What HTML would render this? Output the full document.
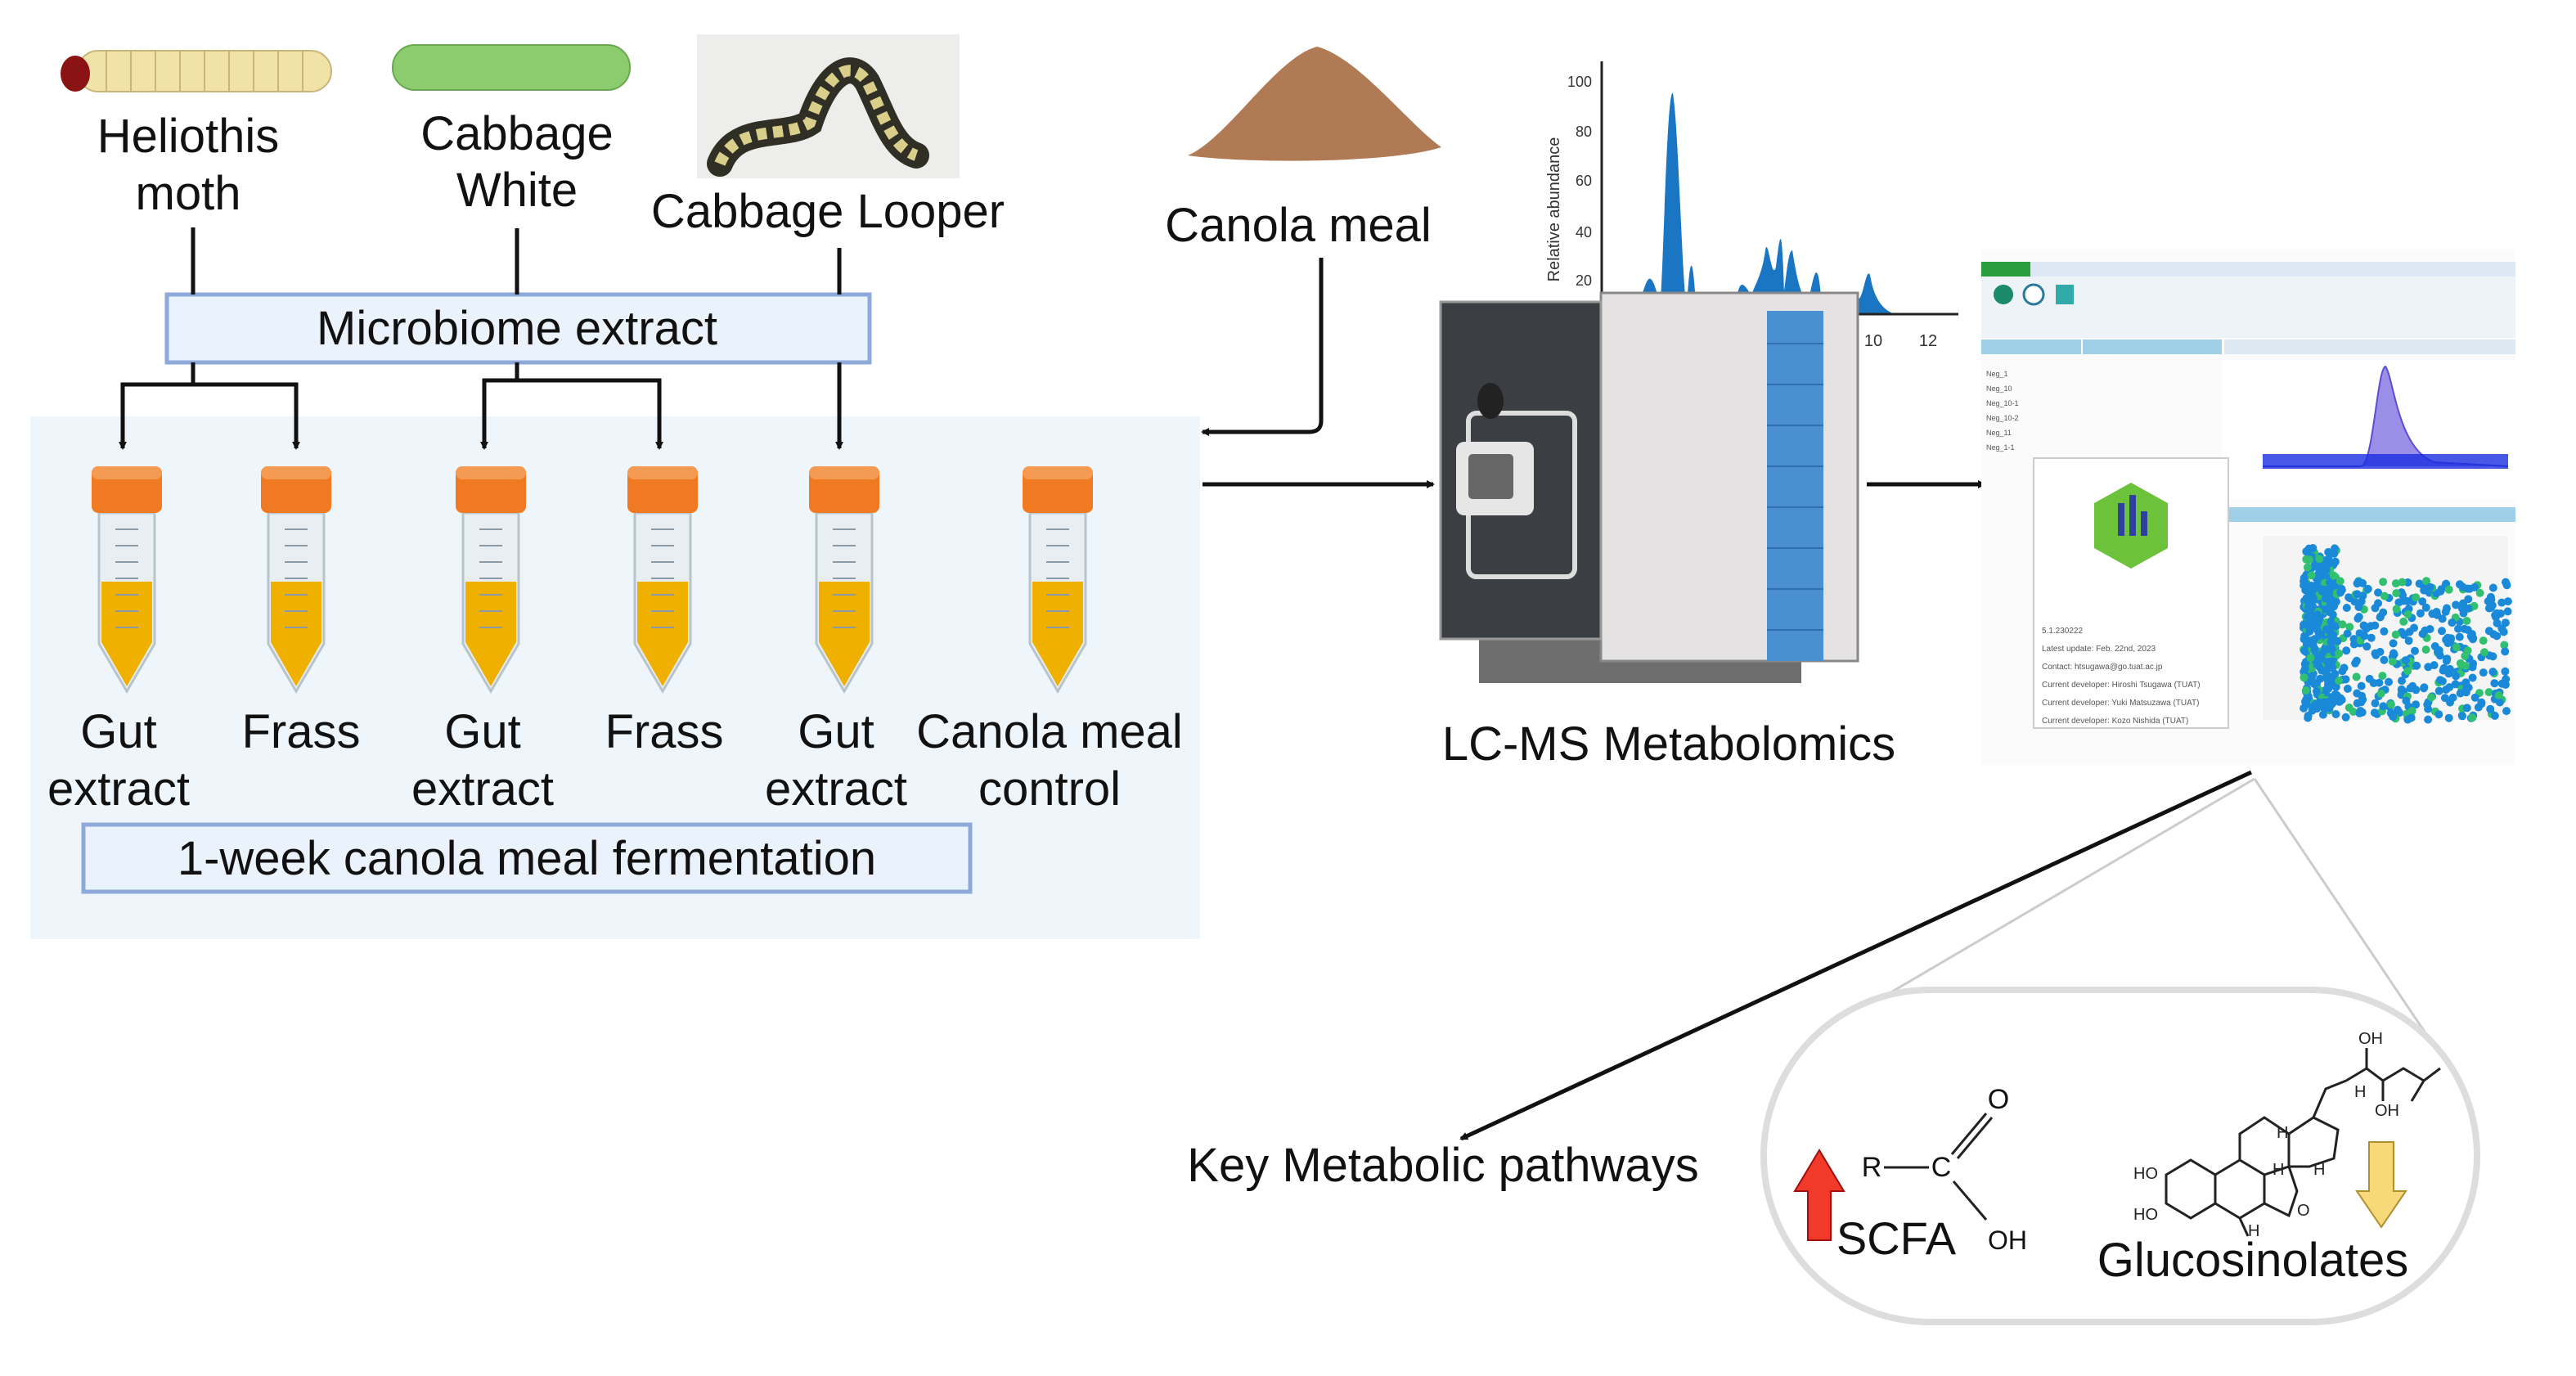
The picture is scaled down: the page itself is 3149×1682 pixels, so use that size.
<!DOCTYPE html>
<html><head><meta charset="utf-8"><style>
body{margin:0;width:3149px;height:1682px;background:#fff;position:relative;overflow:hidden;font-family:"Liberation Sans",sans-serif;color:#111}
.t{position:absolute;transform:translate(-50%,-50%);white-space:nowrap;text-align:center;font-size:58px;line-height:70px}
</style></head><body>
<svg width="3149" height="1682" style="position:absolute;left:0;top:0">
<defs>
<marker id="ah" markerWidth="10" markerHeight="10" refX="8" refY="5" orient="auto" markerUnits="userSpaceOnUse" viewBox="0 0 10 10"><path d="M0,0 L10,5 L0,10z" fill="#111"/></marker>
<g id="tube">
<path d="M-34,0 L34,0 L34,160 L0,218 L-34,160Z" fill="#e8eef2" stroke="#b8c4cc" stroke-width="3"/>
<path d="M-31,84 L31,84 L31,158 L0,212 L-31,158Z" fill="#f0b000"/>
<g stroke="#8a9aa6" stroke-width="2"><line x1="-14" y1="20" x2="14" y2="20"/><line x1="-14" y1="40" x2="14" y2="40"/><line x1="-14" y1="60" x2="14" y2="60"/><line x1="-14" y1="80" x2="14" y2="80"/><line x1="-14" y1="100" x2="14" y2="100"/><line x1="-14" y1="120" x2="14" y2="120"/><line x1="-14" y1="140" x2="14" y2="140"/></g>
<rect x="-43" y="-57" width="86" height="57" rx="8" fill="#f07a22"/>
<rect x="-43" y="-57" width="86" height="16" rx="8" fill="#f59a52"/>
</g>
</defs>
<rect x="37" y="509" width="1430" height="639" fill="#eef6fc"/>
<rect x="204" y="360" width="859" height="83" fill="#eaf2fb" stroke="#8eaadb" stroke-width="5"/>
<rect x="102" y="1008" width="1084" height="82" fill="#eaf2fb" stroke="#8eaadb" stroke-width="5"/>
<g stroke="#111" stroke-width="5" fill="none">
<line x1="236" y1="278" x2="236" y2="360"/><line x1="632" y1="279" x2="632" y2="360"/><line x1="1026" y1="303" x2="1026" y2="360"/>
<path d="M236,443 V470 H150 V548" marker-end="url(#ah)"/><path d="M236,470 H362 V548" marker-end="url(#ah)"/>
<path d="M632,443 V465 H592 V548" marker-end="url(#ah)"/><path d="M632,465 H806 V548" marker-end="url(#ah)"/>
<path d="M1026,443 V548" marker-end="url(#ah)"/>
<path d="M1615,315 V515 Q1615,528 1600,528 H1470" marker-end="url(#ah)"/>
<path d="M1470,592 H1752" marker-end="url(#ah)"/>
<path d="M2282,592 H2426" marker-end="url(#ah)"/>
<path d="M2752,944 L1786,1392" marker-end="url(#ah)"/>
</g>
<g stroke="#ccc" stroke-width="3"><line x1="2756" y1="952" x2="2235" y2="1258"/><line x1="2756" y1="952" x2="2990" y2="1300"/></g>
<use href="#tube" x="155" y="627"/><use href="#tube" x="362" y="627"/><use href="#tube" x="600" y="627"/><use href="#tube" x="810" y="627"/><use href="#tube" x="1032" y="627"/><use href="#tube" x="1293" y="627"/>
<g fill="#f1e2a8" stroke="#c9b57a" stroke-width="2"><rect x="95" y="62" width="310" height="50" rx="25"/></g>
<g stroke="#c9b57a" stroke-width="2"><line x1="130" y1="62" x2="130" y2="112"/><line x1="160" y1="62" x2="160" y2="112"/><line x1="190" y1="62" x2="190" y2="112"/><line x1="220" y1="62" x2="220" y2="112"/><line x1="250" y1="62" x2="250" y2="112"/><line x1="280" y1="62" x2="280" y2="112"/><line x1="310" y1="62" x2="310" y2="112"/><line x1="340" y1="62" x2="340" y2="112"/><line x1="370" y1="62" x2="370" y2="112"/></g>
<ellipse cx="92" cy="90" rx="18" ry="22" fill="#8a1414"/>
<rect x="480" y="55" width="290" height="55" rx="27" fill="#8ccc6e" stroke="#6aa84f" stroke-width="2"/>
<rect x="852" y="42" width="321" height="176" fill="#ededeb"/>
<path d="M880,200 C900,150 960,170 990,150 C1010,90 1040,70 1060,100 C1080,140 1090,180 1120,190" stroke="#2f2f26" stroke-width="32" fill="none" stroke-linecap="round"/>
<path d="M880,200 C900,150 960,170 990,150 C1010,90 1040,70 1060,100 C1080,140 1090,180 1120,190" stroke="#d9cf8a" stroke-width="14" fill="none" stroke-dasharray="12 8"/>
<path d="M1452,190 C1500,170 1560,70 1610,57 C1660,70 1720,150 1762,180 C1700,200 1520,200 1452,190Z" fill="#b07a55"/>
<g transform="translate(6,6)">
<path d="M1952,378 L1990,378 C2000,370 2005,330 2012,335 C2018,340 2020,360 2024,360 C2028,300 2032,100 2039,108 C2046,150 2050,340 2056,370 C2060,300 2063,310 2066,350 L2070,370 C2075,355 2080,360 2085,370 C2090,355 2095,365 2100,372 L2115,372 C2120,330 2125,340 2135,355 C2140,340 2148,330 2152,300 C2155,280 2160,340 2165,320 C2170,280 2172,260 2175,350 C2178,330 2180,300 2185,300 C2190,330 2195,360 2205,360 C2210,340 2215,300 2220,355 C2230,360 2240,365 2265,360 C2272,360 2275,320 2280,330 C2285,360 2295,372 2310,378Z" fill="#1a75c2"/>
<g stroke="#222" stroke-width="3"><line x1="1952" y1="69" x2="1952" y2="380"/><line x1="1950" y1="378" x2="2388" y2="378"/></g>
<g font-family="Liberation Sans" font-size="18" fill="#333" text-anchor="end"><text x="1940" y="100">100</text><text x="1940" y="161">80</text><text x="1940" y="221">60</text><text x="1940" y="284">40</text><text x="1940" y="343">20</text><text x="1940" y="385">0</text></g>
<g font-family="Liberation Sans" font-size="20" fill="#333" text-anchor="middle"><text x="2006" y="417">2</text><text x="2077" y="417">4</text><text x="2146" y="417">6</text><text x="2215" y="417">8</text><text x="2284" y="417">10</text><text x="2351" y="417">12</text><text x="2170" y="458">Retention time</text><text transform="translate(1900,250) rotate(-90)">Relative abundance</text></g>
</g>
<rect x="1808" y="780" width="394" height="55" fill="#6e6e6e"/>
<rect x="1957" y="358" width="314" height="450" fill="#e4e2e2" stroke="#888" stroke-width="3"/>
<rect x="2160" y="380" width="69" height="428" fill="#4a8fd0"/>
<g stroke="#2d6fb0" stroke-width="2"><line x1="2160" y1="420" x2="2229" y2="420"/><line x1="2160" y1="470" x2="2229" y2="470"/><line x1="2160" y1="520" x2="2229" y2="520"/><line x1="2160" y1="570" x2="2229" y2="570"/><line x1="2160" y1="620" x2="2229" y2="620"/><line x1="2160" y1="670" x2="2229" y2="670"/><line x1="2160" y1="720" x2="2229" y2="720"/><line x1="2160" y1="770" x2="2229" y2="770"/></g>
<rect x="1761" y="369" width="196" height="412" fill="#3b3e42" stroke="#999" stroke-width="3"/>
<rect x="1795" y="505" width="130" height="200" rx="10" fill="none" stroke="#ddd" stroke-width="6"/>
<rect x="1780" y="540" width="95" height="90" rx="10" fill="#e6e6e6"/>
<rect x="1795" y="555" width="55" height="55" rx="5" fill="#666"/>
<ellipse cx="1822" cy="490" rx="16" ry="22" fill="#222"/>
<g transform="translate(-14,-10)">
<rect x="2436" y="315" width="653" height="630" fill="#fbfbfb"/>
<rect x="2436" y="330" width="653" height="18" fill="#dde8f4"/>
<rect x="2436" y="330" width="60" height="18" fill="#2a9d3f"/>
<rect x="2436" y="348" width="653" height="75" fill="#eef3f8"/>
<circle cx="2463" cy="370" r="12" fill="#1a8a6a"/><circle cx="2500" cy="370" r="12" fill="#fff" stroke="#2a7a9a" stroke-width="3"/><rect x="2527" y="358" width="22" height="24" fill="#3aa"/>
<rect x="2436" y="425" width="122" height="18" fill="#9fd0e8"/><rect x="2560" y="425" width="170" height="18" fill="#9fd0e8"/><rect x="2733" y="425" width="356" height="18" fill="#dce8f2"/>
<rect x="2730" y="450" width="359" height="170" fill="#fff"/>
<path d="M2780,580 L2900,580 C2915,580 2920,460 2930,458 C2940,470 2945,560 2990,575 L3080,580" fill="#9b8ee8" stroke="#5a4ed0" stroke-width="2"/>
<rect x="2780" y="565" width="300" height="18" fill="#1a2ee0" opacity="0.8"/>
<rect x="2730" y="630" width="359" height="18" fill="#9fd0e8"/>
<rect x="2780" y="665" width="300" height="225" fill="#f4f4f4"/>
<g id="dots"></g>
<rect x="2500" y="570" width="238" height="330" fill="#fff" stroke="#ccc" stroke-width="2"/>
<path d="M2619,600 L2664,625 L2664,680 L2619,705 L2574,680 L2574,625Z" fill="#6cc23a"/>
<g fill="#3040a0"><rect x="2603" y="625" width="8" height="40"/><rect x="2617" y="615" width="8" height="50"/><rect x="2631" y="635" width="8" height="30"/></g>
<g font-family="Liberation Sans" font-size="10" fill="#555"><text x="2510" y="784">5.1.230222</text><text x="2510" y="806">Latest update: Feb. 22nd, 2023</text><text x="2510" y="828">Contact: htsugawa@go.tuat.ac.jp</text><text x="2510" y="850">Current developer: Hiroshi Tsugawa (TUAT)</text><text x="2510" y="872">Current developer: Yuki Matsuzawa (TUAT)</text><text x="2510" y="894">Current developer: Kozo Nishida (TUAT)</text></g>
<g font-family="Liberation Sans" font-size="9" fill="#555"><text x="2442" y="470">Neg_1</text><text x="2442" y="488">Neg_10</text><text x="2442" y="506">Neg_10-1</text><text x="2442" y="524">Neg_10-2</text><text x="2442" y="542">Neg_11</text><text x="2442" y="560">Neg_1-1</text></g>
</g>
<g transform="translate(-12,-14)">
<rect x="2168" y="1224" width="872" height="406" rx="203" fill="#fff" stroke="#ddd" stroke-width="8"/>
<path d="M2236,1420 L2266,1470 L2250,1470 L2250,1530 L2222,1530 L2222,1470 L2206,1470Z" fill="#f23a2a" stroke="#a01010" stroke-width="2"/>
<path d="M2908,1410 L2938,1410 L2938,1470 L2953,1470 L2923,1514 L2893,1470 L2908,1470Z" fill="#f8d97a" stroke="#b09030" stroke-width="2"/>
<g stroke="#222" stroke-width="3" fill="none">
<line x1="2315" y1="1441" x2="2370" y2="1441"/><line x1="2398" y1="1425" x2="2440" y2="1375"/><line x1="2405" y1="1430" x2="2447" y2="1380"/><line x1="2400" y1="1458" x2="2440" y2="1505"/>
<path d="M2660,1450 L2690,1432 L2720,1450 L2720,1485 L2690,1503 L2660,1485Z M2720,1450 L2750,1432 L2780,1450 L2780,1485 L2750,1503 L2720,1485 M2750,1432 L2750,1400 L2780,1380 L2810,1400 L2810,1440 L2780,1450 M2810,1400 L2840,1380 L2870,1395 L2865,1430 L2835,1440 L2810,1440 M2840,1380 L2855,1345 L2880,1335 M2880,1335 L2905,1320 L2925,1335 L2950,1320 L2975,1335 M2975,1335 L2960,1360 M2975,1335 L2995,1320 M2905,1320 L2905,1295 M2925,1335 L2925,1360 M2780,1485 L2810,1500 L2820,1470 L2810,1440 M2750,1503 L2760,1525"/>
</g>
<g font-family="Liberation Sans" font-size="20" fill="#222"><text x="2895" y="1290">OH</text><text x="2915" y="1378">OH</text><text x="2620" y="1455">HO</text><text x="2620" y="1505">HO</text><text x="2795" y="1405">H</text><text x="2790" y="1450">H</text><text x="2840" y="1450">H</text><text x="2890" y="1355">H</text><text x="2760" y="1525">H</text><text x="2820" y="1500">O</text></g>
</g>
</svg>
<div class="t" style="left:230px;top:167px">Heliothis</div>
<div class="t" style="left:230px;top:237px">moth</div>
<div class="t" style="left:632px;top:164px">Cabbage</div>
<div class="t" style="left:632px;top:233px">White</div>
<div class="t" style="left:1012px;top:259px">Cabbage Looper</div>
<div class="t" style="left:1587px;top:276px">Canola meal</div>
<div class="t" style="left:632px;top:402px">Microbiome extract</div>
<div class="t" style="left:644px;top:1050px">1-week canola meal fermentation</div>
<div class="t" style="left:145px;top:895px">Gut</div><div class="t" style="left:145px;top:965px">extract</div>
<div class="t" style="left:368px;top:895px">Frass</div>
<div class="t" style="left:590px;top:895px">Gut</div><div class="t" style="left:590px;top:965px">extract</div>
<div class="t" style="left:812px;top:895px">Frass</div>
<div class="t" style="left:1022px;top:895px">Gut</div><div class="t" style="left:1022px;top:965px">extract</div>
<div class="t" style="left:1283px;top:895px">Canola meal</div><div class="t" style="left:1283px;top:965px">control</div>
<div class="t" style="left:2040px;top:910px">LC-MS Metabolomics</div>
<div class="t" style="left:1764px;top:1425px">Key Metabolic pathways</div>
<div class="t" style="left:2318px;top:1514px;font-size:56px">SCFA</div>
<div class="t" style="left:2754px;top:1541px">Glucosinolates</div>
<div class="t" style="left:2288px;top:1427px;font-size:34px">R</div>
<div class="t" style="left:2373px;top:1427px;font-size:34px">C</div>
<div class="t" style="left:2443px;top:1344px;font-size:34px">O</div>
<div class="t" style="left:2454px;top:1516px;font-size:32px">OH</div>
<script>
var g=document.getElementById('dots'),s=7,h='';
function r(){s=(s*9301+49297)%233280;return s/233280;}
for(var i=0;i<700;i++){var x,y;if(i<250){x=2830+r()*40;y=680+r()*200;}else{x=2830+r()*250;y=720+r()*170;}
var c=r()<0.2?'#30c070':'#1a8ad8';h+='<circle cx="'+x.toFixed(1)+'" cy="'+y.toFixed(1)+'" r="5" fill="'+c+'"/>';}
g.innerHTML=h;
</script>
</body></html>
